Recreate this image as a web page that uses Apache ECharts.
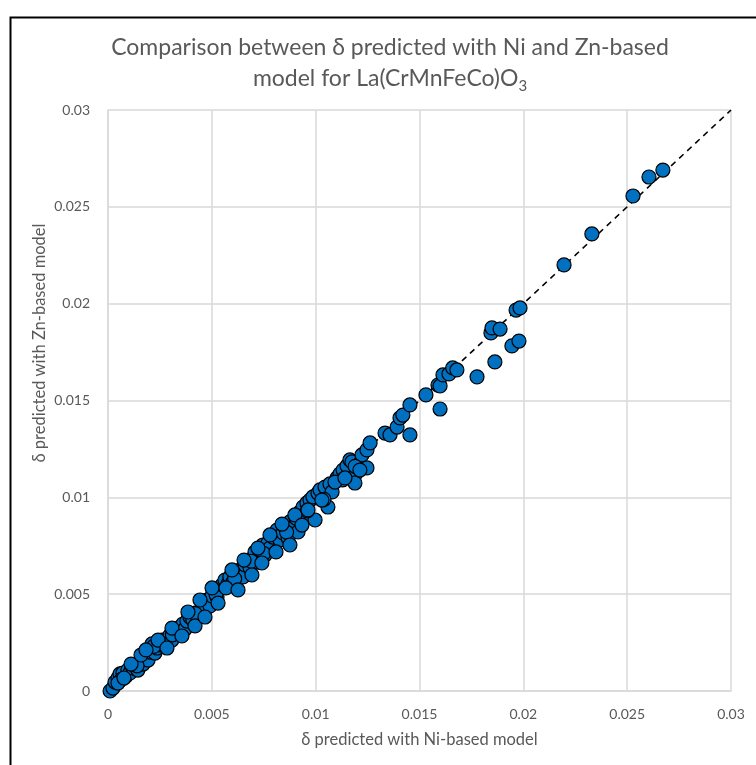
<!DOCTYPE html>
<html>
<head>
<meta charset="utf-8">
<script src="https://cdn.jsdelivr.net/npm/echarts@6/dist/echarts.min.js"></script>
<style>html,body{margin:0;padding:0;background:#fff;}#c{width:756px;height:765px;}</style>
</head>
<body>
<div id="c"></div>
<script>
// δ predicted with Ni-based model (x) and Zn-based model (y)
const niPred = [
  0.0001,0.00024,0.00034,0.00048,0.00058,0.00072,0.00087,0.00096,0.00106,0.0012,
  0.00135,0.00144,0.00154,0.00169,0.00183,0.00193,0.00202,0.00212,0.00226,0.00236,
  0.0025,0.0026,0.00274,0.00289,0.00299,0.00308,0.00323,0.00337,0.00347,0.00361,
  0.00371,0.0038,0.00395,0.00409,0.00424,0.00443,0.00457,0.00467,0.00477,0.00491,
  0.00501,0.00515,0.00525,0.00539,0.00549,0.00563,0.00578,0.00587,0.00602,0.00621,
  0.00636,0.0065,0.0066,0.00674,0.00684,0.00698,0.00708,0.00722,0.00732,0.00746,
  0.00756,0.0077,0.0078,0.00794,0.00814,0.00828,0.00843,0.00852,0.00867,0.00876,
  0.00891,0.00905,0.00915,
  0.00924,0.00939,0.00949,0.00958,0.00973,0.00987,0.00997,0.01011,0.01021,0.01045,
  0.01059,0.01069,0.01079,0.01103,0.01117,0.01132,0.01151,0.01165,0.01175,0.01189,
  0.01189,0.01204,0.01223,0.01247,0.01247,0.01262,
  0.01334,0.01358,0.01392,0.01406,0.0142,0.01454,0.01454,0.01531,0.01589,0.01599,
  0.01599,0.01613,0.01642,0.0166,0.0168,0.01777,0.01844,0.01849,0.01863,0.01888,
  0.01945,0.01965,0.01979,0.01984,0.02196,0.0233,0.02528,0.02605,0.02672,
  0.00065,0.0014,0.0022,0.0031,0.0042,0.0052,0.0061,0.0069,0.0075,0.0086,
  0.0096,0.0104,0.0113,0.0119,
  0.00048,0.00077,0.00111,0.00159,0.00183,0.00241,0.00284,0.00308,0.00356,0.00385,
  0.00419,0.00443,0.00467,0.00501,0.0053,0.00568,0.00597,0.00626,0.00655,0.00693,
  0.00722,0.00741,0.0078,0.00809,0.00838,0.00876,0.009,0.00934,0.00963,0.0103,
  0.01093,0.01141,0.01213
];
const znPred = [
  0.0000,0.00015,0.00046,0.00067,0.00088,0.00093,0.00077,0.00108,0.00093,0.00119,
  0.00124,0.00108,0.0015,0.00139,0.0017,0.0016,0.00201,0.00243,0.00196,0.00222,
  0.00238,0.00263,0.00248,0.00274,0.00289,0.00263,0.00315,0.00325,0.00305,0.00346,
  0.0032,0.00361,0.00382,0.00367,0.00403,0.00387,0.00444,0.00418,0.0047,0.00439,
  0.00491,0.00522,0.00485,0.00532,0.00547,0.00573,0.00553,0.00589,0.00563,0.00609,
  0.00625,0.00589,0.00651,0.00666,0.00635,0.00687,0.00718,0.00666,0.00728,0.00754,
  0.00702,0.00764,0.00738,0.00795,0.00831,0.0078,0.00816,0.00847,0.0079,0.00873,
  0.00842,0.00893,0.00821,
  0.00924,0.0095,0.00893,0.00971,0.00986,0.01002,0.00883,0.01022,0.01038,0.01053,
  0.0095,0.01069,0.01028,0.011,0.01121,0.01141,0.01162,0.01193,0.01183,0.01115,
  0.01074,0.01167,0.01219,0.01245,0.01152,0.01281,
  0.01332,0.01322,0.01363,0.0141,0.01425,0.01477,0.01322,0.01529,0.0158,0.01575,
  0.01456,0.01632,0.01637,0.01668,0.01658,0.01622,0.01849,0.01875,0.01699,0.01869,
  0.01782,0.01967,0.01807,0.01978,0.022,0.0236,0.02556,0.02654,0.0269,
  0.0006,0.0013,0.0023,0.0029,0.0040,0.0050,0.0058,0.0067,0.0071,0.0082,
  0.0093,0.0099,0.0109,0.0116,
  0.00041,0.00067,0.00139,0.00186,0.00212,0.00263,0.00222,0.00325,0.00284,0.00408,
  0.00336,0.0047,0.00382,0.00532,0.00454,0.00532,0.00625,0.00522,0.00676,0.00599,
  0.00738,0.00661,0.00806,0.00718,0.00862,0.00754,0.00909,0.00857,0.00935,0.00986,
  0.01079,0.011,0.01141
];
const refLineX = [0, 0.03];
const refLineY = [0, 0.03];
const axisTicks = [0, 0.005, 0.01, 0.015, 0.02, 0.025, 0.03];

const points = niPred.map((x, i) => [x, znPred[i]]);
const refLine = refLineX.map((x, i) => [x, refLineY[i]]);
const fmt = v => { const t = axisTicks.find(a => Math.abs(a - v) < 1e-9); return t === undefined ? '' : String(t); };

const chart = echarts.init(document.getElementById('c'), null, {renderer: 'canvas'});
const grey = '#595959';
const fam = 'Lato, "Open Sans", sans-serif';
chart.setOption({
  animation: false,
  backgroundColor: '#fff',
  textStyle: {fontFamily: fam},
  graphic: [
    {
      type: 'rect', left: 8, top: 15, shape: {width: 800, height: 800},
      style: {fill: 'none', stroke: '#000', lineWidth: 2}, silent: true
    },
    {
      type: 'text', x: 40, y: 343, rotation: Math.PI / 2, silent: true,
      style: {text: 'δ predicted with Zn-based model', fill: grey, font: '16.5px ' + fam,
              textAlign: 'center', textVerticalAlign: 'middle'}
    }
  ],
  title: {
    text: 'Comparison between δ predicted with Ni and Zn-based\nmodel for La(CrMnFeCo)O{sub|3}',
    left: 385, top: 27, textAlign: 'center',
    textStyle: {
      fontFamily: fam, fontSize: 23, fontWeight: 'normal', color: grey, lineHeight: 31,
      rich: {sub: {fontFamily: fam, fontSize: 15, color: grey, verticalAlign: 'bottom', padding: [12, 0, 0, 0]}}
    }
  },
  grid: {left: 108, right: 25, top: 110, bottom: 74, containLabel: false},
  xAxis: {
    type: 'value', min: 0, max: 0.03, interval: 0.005,
    name: 'δ predicted with Ni-based model', nameLocation: 'middle', nameGap: 40,
    nameTextStyle: {fontFamily: fam, fontSize: 16.5, color: grey},
    axisLine: {show: true, lineStyle: {color: '#d9d9d9', width: 1.5}},
    axisTick: {show: false},
    axisLabel: {color: grey, fontSize: 14, fontFamily: fam, margin: 16, formatter: fmt},
    splitLine: {show: true, lineStyle: {color: '#d9d9d9', width: 1.5}}
  },
  yAxis: {
    type: 'value', min: 0, max: 0.03, interval: 0.005,
    axisLine: {show: true, lineStyle: {color: '#d9d9d9', width: 1.5}},
    axisTick: {show: false},
    axisLabel: {color: grey, fontSize: 14, fontFamily: fam, margin: 18, formatter: fmt},
    splitLine: {show: true, lineStyle: {color: '#d9d9d9', width: 1.5}}
  },
  series: [
    {
      type: 'line', data: refLine, symbol: 'none', z: 1,
      lineStyle: {color: '#000', width: 1.6, type: [6, 5]}
    },
    {
      type: 'scatter', data: points, symbol: 'circle', symbolSize: 14, z: 2,
      itemStyle: {color: '#0070C0', borderColor: '#000', borderWidth: 1.2, opacity: 1}
    }
  ]
});
</script>
</body>
</html>
